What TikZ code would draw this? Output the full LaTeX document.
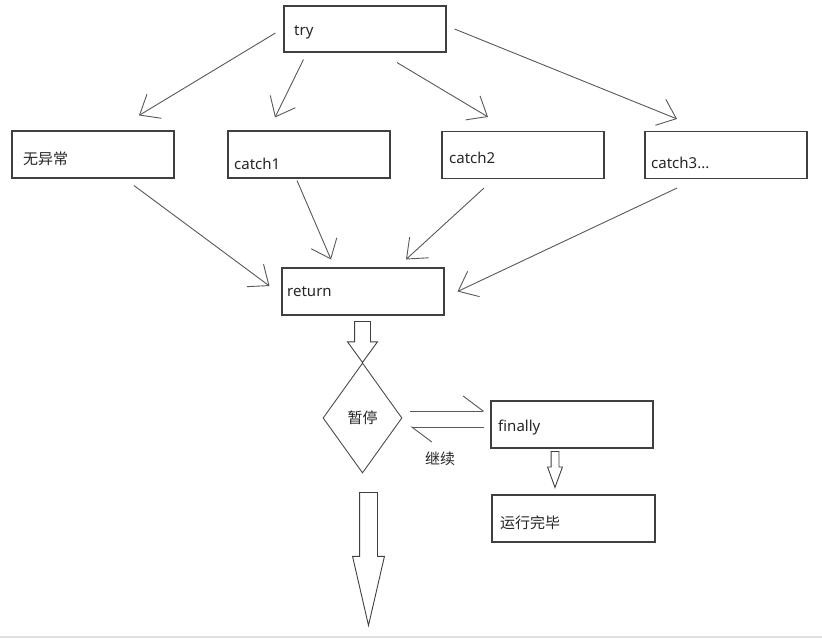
\documentclass[tikz,border=0pt]{standalone}
\usepackage{fontspec}
\setmainfont{Noto Sans}
\newfontfamily\cjk{Noto Sans CJK SC}
\usetikzlibrary{arrows.meta,shapes.geometric,shapes.arrows}

\begin{document}
\begin{tikzpicture}[x=1pt,y=-1pt]

\tikzstyle box=[draw=black!75, line width=1.1pt, minimum width=162pt, minimum height=47pt, inner sep=0pt]
\tikzstyle txt=[anchor=west, inner sep=0pt, text=black!85, font=\fontsize{15pt}{18pt}\selectfont]
\tikzstyle link=[draw=black!65, line width=0.9pt, -{Straight Barb[length=17pt,width=28pt]}]
\tikzstyle half=[draw=black!65, line width=0.9pt, -{Straight Barb[left,length=20pt,width=30pt]}]
\tikzstyle fat=[single arrow, draw=black!75, line width=0.9pt, shape border rotate=270, single arrow head indent=0pt, anchor=tail]

\fill [white] (0,0) rectangle (822,639);
\useasboundingbox (0,0) rectangle (822,639);
\draw [black!12, line width=1.5pt] (0,637) -- (822,637);

\node (try) [box, minimum height=46pt] at (365,29) {};
\node (none) [box] at (93,154.5) {};
\node (c1) [box] at (309,154.5) {};
\node (c2) [box] at (523,155) {};
\node (c3) [box] at (726,155) {};
\node (ret) [box] at (363,291.5) {};
\node (fin) [box] at (572,424.5) {};
\node (done) [box, minimum width=163pt] at (573.5,518.5) {};
\node (pause) [diamond, draw=black!70, line width=0.9pt, minimum width=79pt, minimum height=110pt, inner sep=0pt, text=black!85, font=\cjk\fontsize{15pt}{18pt}\selectfont] at (362.5,418) {暂停};

\node (try-t) [txt] at (294,32) {try};
\node (none-t) [txt] at (23,159) {\cjk 无异常};
\node (c1-t) [txt] at (234,164) {catch1};
\node (c2-t) [txt] at (449,158) {catch2};
\node (c3-t) [txt] at (651,163) {catch3...};
\node (ret-t) [txt] at (287,292) {return};
\node (fin-t) [txt] at (498,428) {finally};
\node (done-t) [txt] at (500,523) {\cjk 运行完毕};
\node (go) [txt] at (425,459) {\cjk 继续};

\node (a1) [fat, inner sep=7.5pt, minimum height=41pt, single arrow head extend=7pt, single arrow tip angle=72] at (362.5,321) {};
\node (a2) [fat, inner sep=3.5pt, minimum height=36pt, single arrow head extend=3.5pt, single arrow tip angle=40] at (555,451) {};
\node (a3) [fat, inner sep=8.5pt, minimum height=133pt, single arrow head extend=7pt, single arrow tip angle=26] at (368.5,492) {};

\draw [link] ([xshift=-8pt,yshift=-4pt]try.west) -- ([xshift=46pt,yshift=15pt]none.north);
\draw [link] ([xshift=20pt,yshift=-7pt]try.south west) -- ([xshift=-34pt,yshift=13pt]c1.north);
\draw [link] ([xshift=32pt,yshift=-10pt]try.south) -- ([xshift=-35pt,yshift=14pt]c2.north);
\draw [link] ([xshift=8pt]try.east) -- ([xshift=-49pt,yshift=12pt]c3.north);

\draw [link] ([xshift=41pt,yshift=-7pt]none.south) -- ([xshift=-12pt,yshift=5.5pt]ret.west);
\draw [link] ([xshift=-12pt,yshift=-2pt]c1.south) -- ([xshift=-32pt,yshift=8pt]ret.north);
\draw [link] ([xshift=-39pt,yshift=-9pt]c2.south) -- ([xshift=43pt,yshift=8pt]ret.north);
\draw [link] ([xshift=-49pt,yshift=-9pt]c3.south) -- ([xshift=13pt]ret.east);

\draw [half] ([xshift=8pt,yshift=7pt]pause.east) -- ([xshift=-6pt,yshift=13.5pt]fin.west);
\draw [half] ([xshift=-6pt,yshift=-2.5pt]fin.west) -- ([xshift=8pt,yshift=-9pt]pause.east);

\end{tikzpicture}
\end{document}
